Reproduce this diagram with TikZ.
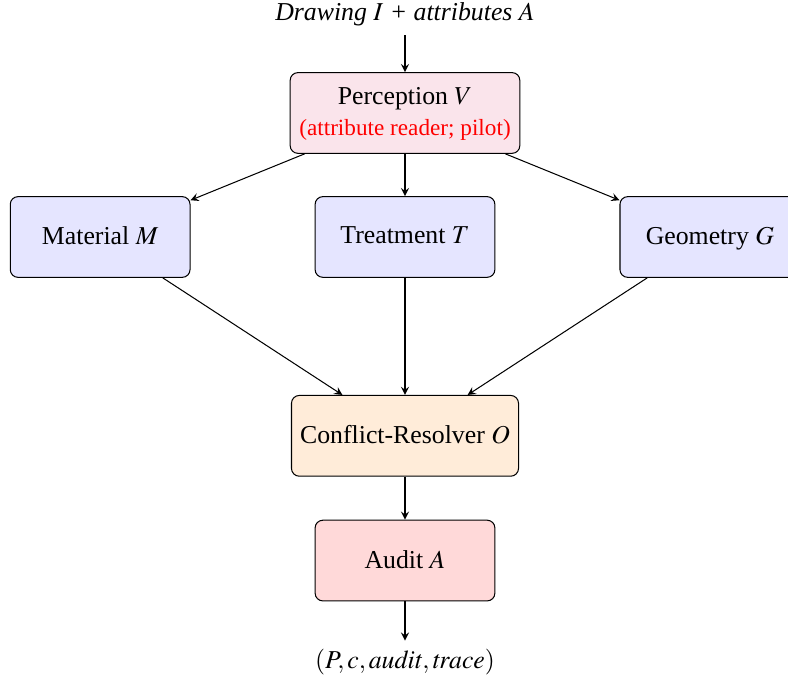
\documentclass[tikz,border=0pt]{standalone}
\usepackage{mathptmx}
\usepackage[no-math]{fontspec}
\setmainfont{Liberation Serif}

\definecolor{percfill}{RGB}{250,228,235}

\tikzset{
  stage/.style={draw,rounded corners=3pt,minimum width=2.45cm,minimum height=1.1cm,text depth=0.25ex},
  flow/.style={->,>=stealth}
}

\begin{document}
\begin{tikzpicture}
        % Frame
        \useasboundingbox (-5.52,0) rectangle (5.22,9.26);

        % Input
        \node (input) at (0,9.06) {\textit{Drawing $I$ + attributes $A$}};

        % Perception
        \node[stage,fill=percfill,align=center,minimum width=3.13cm] (perc) at (0,7.72) {Perception $V$\\\small\textcolor{red}{(attribute reader; pilot)}};

        % Specialists
        \node[stage,fill=blue!10] (mat) at (-4.155,6.03) {Material $M$};
        \node[stage,fill=blue!10] (treat) at (0,6.03) {Treatment $T$};
        \node[stage,fill=blue!10] (geo) at (4.155,6.03) {Geometry $G$};

        % Resolver and audit
        \node[stage,fill=orange!15] (resolver) at (0,3.32) {Conflict-Resolver $O$};
        \node[stage,fill=red!15] (audit) at (0,1.62) {Audit $A$};

        % Output
        \node (output) at (0,0.23) {$(P,c,\mathit{audit},\mathit{trace})$};

        % Arrows
        \draw[flow] (input) -- (perc);
        \draw[flow] (perc) -- (mat);
        \draw[flow] (perc) -- (treat);
        \draw[flow] (perc) -- (geo);
        \draw[flow] (mat) -- (resolver);
        \draw[flow] (treat) -- (resolver);
        \draw[flow] (geo) -- (resolver);
        \draw[flow] (resolver) -- (audit);
        \draw[flow] (audit) -- (output);

      \end{tikzpicture}
\end{document}
